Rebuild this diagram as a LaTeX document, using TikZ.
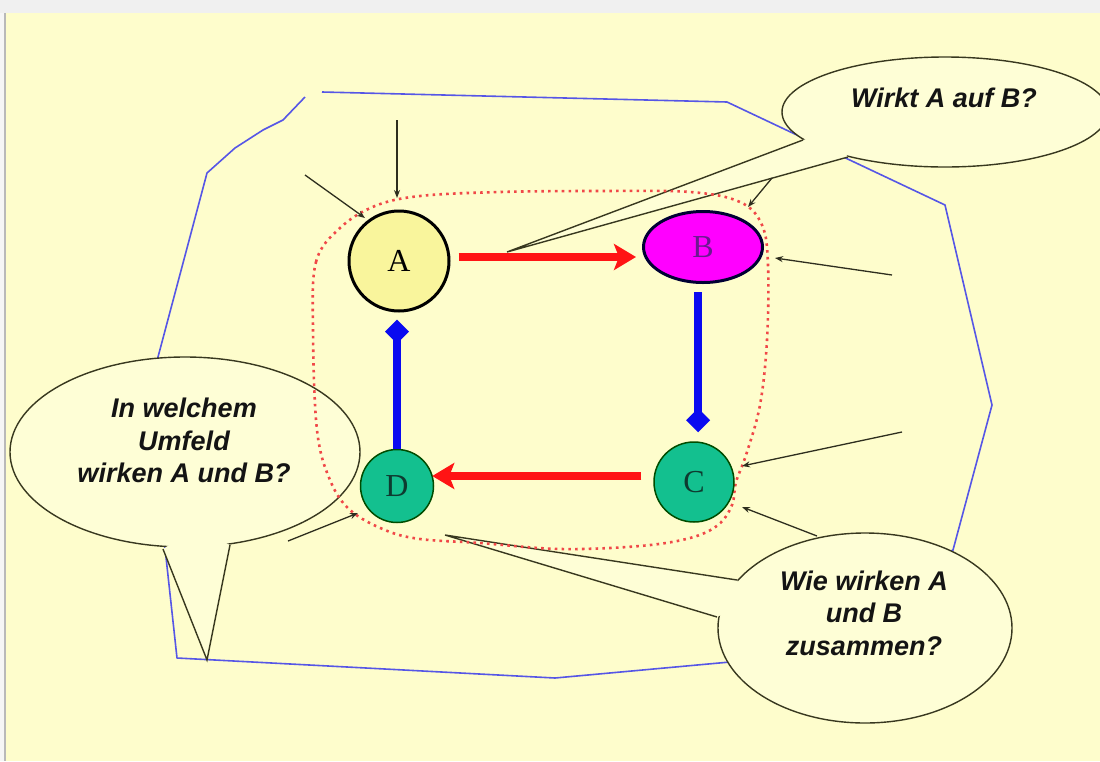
\documentclass[tikz,border=0pt]{standalone}
\usepackage{fontspec}
\setmainfont{Liberation Serif}
\newfontfamily\bubblefont{Liberation Sans}
\usetikzlibrary{arrows.meta,shapes.geometric,calc}

\definecolor{paper}{HTML}{FEFDCC}
\definecolor{bubblefill}{HTML}{FEFED6}
\definecolor{bubbleline}{HTML}{38381F}
\definecolor{fieldblue}{HTML}{5656E6}
\definecolor{nodeA}{HTML}{F9F59C}
\definecolor{nodeB}{HTML}{FF00FF}
\definecolor{labelB}{HTML}{6A1A90}
\definecolor{nodeCD}{HTML}{13C08F}
\definecolor{labelCD}{HTML}{0E3B30}
\definecolor{linkred}{HTML}{FF1414}
\definecolor{linkblue}{HTML}{0A0AF0}
\definecolor{dotred}{HTML}{F04848}
\definecolor{inflow}{HTML}{2E2E1E}

\begin{document}
\begin{tikzpicture}[x=1pt,y=-1pt,
  bubble/.style={fill=bubblefill, draw=bubbleline, line width=1.4pt},
  tailcover/.style={fill=bubblefill},
  tailline/.style={draw=bubbleline, line width=1.4pt, line join=miter},
  btext/.style={font=\bubblefont\bfseries\itshape\fontsize{27}{33}\selectfont,
    text=black!92, anchor=base, inner sep=0pt},
  factor/.style={inner sep=0pt, font=\fontsize{32}{38}\selectfont},
  influence/.style={draw=inflow, line width=1.3pt, -{Stealth[length=8pt,width=6pt]}},
  effect/.style={draw=linkred, line width=7.5pt, -{Stealth[length=22pt,width=26pt,inset=5pt]}},
  feedback/.style={draw=linkblue, line width=7.5pt, -{Diamond[length=24pt,width=24pt]}},
  boundary/.style={draw=dotred, line width=2.6pt, dash pattern=on 2.6pt off 4.2pt},
  field/.style={draw=fieldblue, line width=1.6pt, line join=round}
]
\useasboundingbox (0,0) rectangle (1100,761);

% page
\fill[paper] (0,0) rectangle (1100,761);
\fill[gray!12] (0,0) rectangle (1100,13);
\fill[gray!7] (0,13) rectangle (4,761);
\draw[gray!55, line width=1.2pt] (5,13) -- (5,761);

% surrounding field
\draw[field] (322,92) -- (727,102) -- (945,205) -- (992,405) -- (953,550)
  -- (730,662) -- (555,678) -- (177,658) -- (165,548) -- (158,357)
  -- (207,173) -- (235,148) -- (263,130) -- (283,120) -- (305,97);

% callout: Wirkt A auf B?
\path[bubble] (945,112) ellipse [x radius=163, y radius=55];
\path[tailcover] (803,140) -- (507,252) -- (848,157) -- (830,132) -- cycle;
\draw[tailline] (803,140) -- (507,252) -- (848,157);

% callout: environment
\path[bubble] (185,452) ellipse [x radius=175, y radius=95];
\path[tailcover] (163,549) -- (207,660) -- (230,545) -- (196,528) -- cycle;
\draw[tailline] (163,549) -- (207,660) -- (230,545);

% callout: interplay
\path[bubble] (865,628) ellipse [x radius=147, y radius=95];
\path[tailcover] (737,580) -- (445,535) -- (717,617) -- (748,602) -- cycle;
\draw[tailline] (737,580) -- (445,535) -- (717,617);

% system boundary
\path[boundary] plot[smooth cycle, tension=0.6] coordinates {
  (313,330) (316,262) (340,228) (375,206) (420,196) (500,192) (600,191)
  (690,192) (740,202) (762,225) (768,265) (767,340) (760,405) (746,455)
  (736,482) (732,505) (718,525) (690,538) (640,546) (560,549) (480,543)
  (420,539) (385,530) (350,510) (330,480) (317,430)};

% callout texts
\node[btext] (q1) at (944,107) {Wirkt A auf B?};
\node[btext] (q2a) at (184,417) {In welchem};
\node[btext] (q2b) at (184,450) {Umfeld};
\node[btext] (q2c) at (184,482) {wirken A und B?};
\node[btext] (q3a) at (864,590) {Wie wirken A};
\node[btext] (q3b) at (864,622) {und B};
\node[btext] (q3c) at (864,655) {zusammen?};

% factors
\node[factor, circle, minimum size=100pt, fill=nodeA, draw=black, line width=3pt] (A) at (399,261) {A};
\node[factor, ellipse, minimum width=119pt, minimum height=71pt, fill=nodeB,
  draw=black!80!blue, line width=3pt, text=labelB] (B) at (703,247) {B};
\node[factor, circle, minimum size=80pt, fill=nodeCD, draw=black!70!green,
  line width=1.5pt, text=labelCD] (C) at (694,482) {C};
\node[factor, circle, minimum size=73pt, fill=nodeCD, draw=black!70!green,
  line width=1.5pt, text=labelCD] (D) at (397,486) {D};

% outside influences
\coordinate (i1) at (397,120);
\coordinate (i2) at (305,175);
\coordinate (i3) at (772,178);
\coordinate (i4) at (892,275);
\coordinate (i5) at (902,432);
\coordinate (i6) at (817,536);
\coordinate (i7) at (288,541);
\draw[influence] (i1) -- ($(A)+(-2,-63)$);
\draw[influence] (i2) -- ($(A)+(-34,-43)$);
\draw[influence] (i3) -- ($(B)+(45,-40)$);
\draw[influence] (i4) -- ($(B)+(72,11)$);
\draw[influence] (i5) -- ($(C)+(48,-16)$);
\draw[influence] (i6) -- ($(C)+(48,25)$);
\draw[influence] (i7) -- ($(D)+(-39,27)$);

% links between the factors
\draw[effect] ([shift={(8,-4)}]A.east) -- ([shift={(-6,10)}]B.west);
\draw[effect] ([shift={(-12,-6)}]C.west) -- ([shift={(-2,-10)}]D.east);
\draw[feedback] (D.north) -- ([shift={(-2,7)}]A.south);
\draw[feedback] ([shift={(-5,8)}]B.south) -- ([shift={(4,-9)}]C.north);
\end{tikzpicture}
\end{document}
